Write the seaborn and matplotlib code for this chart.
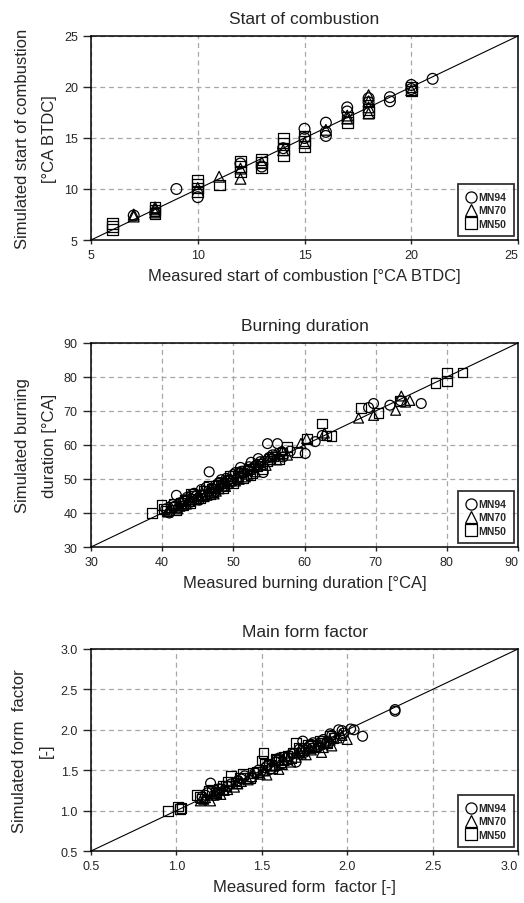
import numpy as np
import pandas as pd
import matplotlib
matplotlib.use("Agg")
import matplotlib.pyplot as plt
from matplotlib.lines import Line2D
import seaborn as sns

sns.set_style("white")
plt.rcParams['font.family'] = ['Liberation Sans', 'DejaVu Sans']

series = ["MN94", "MN70", "MN50"]
markers = {"MN94": "o", "MN70": "^", "MN50": "s"}

# ---------------- Panel 1: start of combustion ----------------
soc_mn94_x = [9, 10, 15, 15, 16, 16, 16, 17, 17, 18, 18, 19, 19, 20, 20, 21, 7, 12, 14, 13]
soc_mn94_y = [10.0, 9.2, 15.9, 15.0, 16.5, 15.2, 15.6, 18.0, 17.6, 18.9, 18.5, 18.6, 19.0, 20.2, 19.8, 20.8, 7.4, 12.5, 14.0, 12.2]
soc_mn70_x = [7, 7, 8, 8, 8, 11, 12, 12, 14, 16, 17, 17, 18, 18, 18, 18, 20, 15, 10, 13]
soc_mn70_y = [7.3, 7.5, 8.2, 7.7, 8.0, 11.2, 11.0, 12.0, 13.8, 15.8, 16.9, 17.2, 17.4, 18.0, 18.6, 19.2, 19.7, 14.5, 10.1, 12.6]
soc_mn50_x = [6, 6, 6, 8, 8, 8, 10, 10, 10, 10, 11, 12, 12, 12, 13, 13, 13, 14, 14, 14, 14, 15, 15, 15, 17, 17, 18, 18, 20, 20]
soc_mn50_y = [6.0, 6.3, 6.6, 7.6, 7.9, 8.2, 9.7, 10.1, 10.5, 10.8, 10.4, 11.7, 12.2, 12.7, 12.1, 12.6, 12.9, 13.3, 13.9, 14.5, 15.0, 14.2, 14.7, 15.2, 16.5, 17.0, 17.5, 17.8, 19.6, 20.0]

# ---------------- Panel 2: burning duration ----------------
bd_mn94_x = [40.5, 41.0, 41.5, 42.0, 42.5, 43.0, 43.5, 44.0, 44.5, 45.0, 45.5, 46.0, 46.6, 47.0, 47.5, 48.0, 48.5, 49.0, 49.5, 50.0, 50.5, 51.0, 51.5, 52.0, 52.5, 53.0, 53.5, 54.2, 54.8, 55.5, 56.2, 57.0, 58.0, 60.1, 61.5, 62.5, 69.0, 69.7, 72.0, 73.5, 76.4, 45.2, 48.8, 51.2, 53.8,
             41.8, 43.2, 44.8, 46.2, 47.8, 49.3, 50.8, 52.2, 53.2, 55.0, 56.8, 42.3, 44.2, 48.3, 50.3]
bd_mn94_y = [41.2, 40.0, 42.5, 45.2, 43.0, 42.1, 44.6, 43.2, 45.8, 44.1, 46.9, 45.3, 52.1, 47.2, 46.3, 49.0, 47.7, 50.2, 48.6, 51.3, 50.0, 53.4, 51.8, 52.6, 54.9, 53.2, 56.0, 51.9, 60.4, 57.1, 60.4, 56.5, 58.2, 57.5, 61.0, 62.8, 71.0, 72.2, 71.7, 73.0, 72.2, 43.8, 47.9, 52.3, 55.1,
             42.0, 43.9, 45.0, 47.6, 48.1, 49.8, 52.0, 53.6, 54.1, 56.3, 58.0, 41.5, 45.5, 49.8, 51.9]
bd_mn70_x = [40.8, 41.3, 42.2, 42.8, 43.4, 44.2, 44.8, 45.6, 46.3, 46.9, 47.6, 48.2, 48.9, 49.6, 50.3, 51.0, 51.7, 52.4, 53.1, 53.9, 54.6, 55.4, 56.1, 56.9, 57.6, 59.5, 60.3, 62.8, 67.6, 69.7, 72.8, 73.6, 74.2, 74.8, 43.9, 47.3, 50.8, 55.9,
             41.0, 42.5, 44.0, 45.2, 46.6, 48.0, 49.2, 50.6, 52.0, 53.4, 54.9, 56.4, 45.9, 48.6]
bd_mn70_y = [40.3, 41.5, 41.2, 43.4, 42.6, 44.5, 43.9, 46.1, 45.2, 47.5, 46.4, 48.6, 47.8, 50.1, 49.4, 51.8, 50.6, 53.2, 52.1, 55.0, 54.0, 56.8, 55.6, 58.3, 57.0, 60.5, 61.9, 63.5, 67.9, 68.7, 70.2, 74.4, 72.6, 73.1, 44.0, 45.6, 49.9, 57.4,
             40.8, 42.0, 43.4, 45.3, 46.5, 47.1, 48.7, 50.5, 51.4, 53.8, 55.7, 57.1, 44.8, 49.3]
bd_mn50_x = [38.6, 39.9, 40.6, 41.2, 41.9, 42.6, 43.2, 43.9, 44.6, 45.3, 45.9, 46.5, 47.2, 47.8, 48.5, 49.2, 49.9, 50.6, 51.3, 52.0, 52.7, 53.4, 54.1, 54.8, 55.6, 56.4, 57.5, 58.9, 60.3, 62.4, 63.1, 63.8, 67.9, 70.4, 73.4, 78.4, 80.0, 80.0, 82.2, 44.1, 46.8, 49.5, 52.4,
             40.2, 41.6, 42.9, 44.3, 45.6, 47.0, 48.2, 49.7, 51.0, 52.3, 53.8, 55.2, 56.9, 43.6, 47.5]
bd_mn50_y = [40.1, 42.3, 40.6, 41.8, 40.9, 43.0, 43.9, 42.8, 45.0, 44.4, 46.4, 47.9, 46.2, 48.4, 47.3, 49.5, 48.9, 51.0, 50.2, 52.5, 51.6, 53.9, 53.0, 55.2, 56.6, 56.0, 59.4, 57.9, 61.7, 66.3, 62.8, 62.6, 70.9, 69.4, 72.9, 78.2, 78.7, 81.2, 81.3, 45.7, 45.5, 50.8, 51.1,
             41.2, 42.6, 42.2, 44.0, 45.4, 47.2, 48.9, 49.8, 51.9, 53.0, 54.5, 55.8, 57.6, 43.5, 48.0]

# ---------------- Panel 3: main form factor ----------------
ff_mn94_x = [1.15, 1.18, 1.20, 1.22, 1.25, 1.28, 1.32, 1.36, 1.40, 1.44, 1.48, 1.52, 1.55, 1.58, 1.62, 1.65, 1.68, 1.70, 1.72, 1.75, 1.78, 1.80, 1.83, 1.86, 1.88, 1.90, 1.92, 1.95, 1.98, 2.02, 2.04, 2.09, 2.28, 2.28, 1.60, 1.74,
             1.17, 1.24, 1.30, 1.38, 1.46, 1.53, 1.60, 1.66, 1.73, 1.79, 1.85, 1.91, 1.97]
ff_mn94_y = [1.17, 1.22, 1.34, 1.19, 1.27, 1.25, 1.33, 1.37, 1.43, 1.41, 1.50, 1.53, 1.51, 1.60, 1.58, 1.66, 1.70, 1.60, 1.76, 1.72, 1.80, 1.84, 1.79, 1.88, 1.85, 1.95, 1.90, 2.00, 1.96, 2.01, 2.00, 1.92, 2.23, 2.25, 1.65, 1.86,
             1.19, 1.23, 1.30, 1.39, 1.47, 1.55, 1.62, 1.68, 1.73, 1.82, 1.86, 1.93, 1.99]
ff_mn70_x = [1.14, 1.17, 1.20, 1.23, 1.26, 1.30, 1.34, 1.38, 1.42, 1.45, 1.49, 1.53, 1.57, 1.60, 1.63, 1.67, 1.70, 1.73, 1.76, 1.79, 1.82, 1.85, 1.88, 1.91, 1.94, 1.97, 2.00, 1.52, 1.62, 1.86,
             1.16, 1.22, 1.28, 1.36, 1.44, 1.51, 1.58, 1.65, 1.72, 1.78, 1.84, 1.90, 1.96]
ff_mn70_y = [1.12, 1.16, 1.12, 1.22, 1.20, 1.26, 1.29, 1.36, 1.38, 1.46, 1.45, 1.44, 1.55, 1.51, 1.62, 1.60, 1.66, 1.70, 1.69, 1.75, 1.80, 1.72, 1.84, 1.80, 1.90, 1.93, 1.88, 1.50, 1.57, 1.78,
             1.14, 1.19, 1.25, 1.33, 1.42, 1.49, 1.56, 1.63, 1.72, 1.77, 1.82, 1.87, 1.95]
ff_mn50_x = [0.95, 1.01, 1.03, 1.02, 1.12, 1.15, 1.19, 1.23, 1.27, 1.32, 1.35, 1.39, 1.43, 1.47, 1.51, 1.50, 1.54, 1.58, 1.61, 1.65, 1.68, 1.70, 1.74, 1.77, 1.81, 1.84, 1.88, 1.92, 1.25, 1.30, 1.56,
             1.14, 1.21, 1.29, 1.37, 1.45, 1.52, 1.59, 1.63, 1.67, 1.72, 1.79, 1.86, 1.90]
ff_mn50_y = [1.00, 1.05, 1.03, 1.02, 1.19, 1.15, 1.24, 1.22, 1.31, 1.43, 1.34, 1.45, 1.40, 1.48, 1.71, 1.62, 1.56, 1.64, 1.60, 1.68, 1.72, 1.84, 1.75, 1.81, 1.78, 1.86, 1.83, 1.90, 1.27, 1.36, 1.53,
             1.17, 1.26, 1.30, 1.41, 1.47, 1.58, 1.63, 1.67, 1.65, 1.77, 1.80, 1.84, 1.92]

titles = ["Start of combustion", "Burning duration", "Main form factor"]
xlabels = ["Measured start of combustion [°CA BTDC]", "Measured burning duration [°CA]", "Measured form  factor [-]"]
ylabels = ["Simulated start of combustion\n[°CA BTDC]", "Simulated burning\nduration [°CA]", "Simulated form  factor\n[-]"]
limits = [(5, 25), (30, 90), (0.5, 3.0)]
ticks = [[5, 10, 15, 20, 25], [30, 40, 50, 60, 70, 80, 90], [0.5, 1.0, 1.5, 2.0, 2.5, 3.0]]
ticklabels = [["5", "10", "15", "20", "25"], ["30", "40", "50", "60", "70", "80", "90"],
              ["0.5", "1.0", "1.5", "2.0", "2.5", "3.0"]]

panels = [
    {"MN94": (soc_mn94_x, soc_mn94_y), "MN70": (soc_mn70_x, soc_mn70_y), "MN50": (soc_mn50_x, soc_mn50_y)},
    {"MN94": (bd_mn94_x, bd_mn94_y), "MN70": (bd_mn70_x, bd_mn70_y), "MN50": (bd_mn50_x, bd_mn50_y)},
    {"MN94": (ff_mn94_x, ff_mn94_y), "MN70": (ff_mn70_x, ff_mn70_y), "MN50": (ff_mn50_x, ff_mn50_y)},
]
marker_sizes = [60, 50, 50]

fig = plt.figure(figsize=(5.24, 9.04), dpi=100)
rects = [
    [0.1737, 0.7334, 0.8149, 0.2257],
    [0.1737, 0.3938, 0.8149, 0.2257],
    [0.1737, 0.0575, 0.8149, 0.2235],
]

for i in range(3):
    ax = fig.add_axes(rects[i])
    lo, hi = limits[i]
    diag = pd.DataFrame({"x": [lo, hi], "y": [lo, hi]})
    sns.lineplot(data=diag, x="x", y="y", color="black", linewidth=0.8, ax=ax, zorder=2)
    for s in series:
        xs, ys = panels[i][s]
        df = pd.DataFrame({"x": xs, "y": ys})
        sns.scatterplot(data=df, x="x", y="y", marker=markers[s], s=marker_sizes[i], ax=ax, zorder=3)
        coll = ax.collections[-1]
        coll.set_facecolor("none")
        coll.set_edgecolor("black")
        coll.set_linewidth(0.9)
    ax.set_xlim(lo, hi)
    ax.set_ylim(lo, hi)
    ax.set_xticks(ticks[i])
    ax.set_yticks(ticks[i])
    ax.set_xticklabels(ticklabels[i])
    ax.set_yticklabels(ticklabels[i])
    ax.grid(True, color="#a8a8a8", linestyle=(0, (4, 3)), linewidth=0.9)
    ax.set_axisbelow(True)
    for sp in ax.spines.values():
        sp.set_color("black")
        sp.set_linewidth(1.1)
        sp.set_visible(True)
    ax.tick_params(axis="y", direction="out", length=6, width=1, pad=3.5, labelsize=9, left=True)
    ax.tick_params(axis="x", direction="out", length=3, width=1, pad=3.5, labelsize=9, bottom=True)
    # keep the last x tick label inside the figure
    ax.get_xticklabels()[-1].set_horizontalalignment("right")
    ax.set_title(titles[i], fontsize=12.5, pad=9)
    ax.set_xlabel(xlabels[i], fontsize=12, labelpad=5)
    ax.set_ylabel(ylabels[i], fontsize=12, labelpad=5, linespacing=1.95)
    handles = [Line2D([], [], linestyle="none", marker=markers[s], markersize=8,
                      markerfacecolor="none", markeredgecolor="black", markeredgewidth=0.9)
               for s in series]
    leg = ax.legend(handles, series, loc="lower right", frameon=True, fancybox=False,
                    prop={"size": 7.5, "weight": "bold"}, handlelength=0.9,
                    handletextpad=0.3, labelspacing=0.3, borderpad=0.75,
                    borderaxespad=0.35)
    leg.get_frame().set_edgecolor("black")
    leg.get_frame().set_linewidth(1.3)

fig.savefig("out.png", dpi=100)
